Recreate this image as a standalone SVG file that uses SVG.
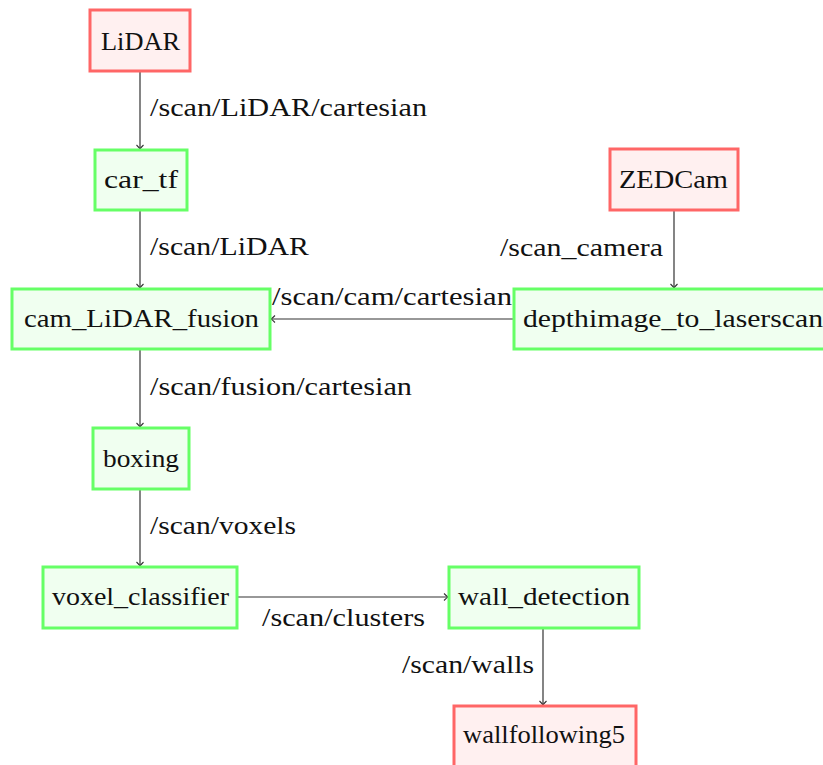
<svg xmlns="http://www.w3.org/2000/svg" width="823" height="765" viewBox="0 0 823 765">
<style>
.t{font-family:'Liberation Serif','DejaVu Serif','Times New Roman',serif;font-size:25px;fill:#111}
.src rect{fill:#fff0f0;stroke:#ff6666;stroke-width:3}
.proc rect{fill:#f0fff0;stroke:#66ff66;stroke-width:3}
#edges line{stroke:#333;stroke-width:1.2;fill:none}
</style>
<defs>
<marker id="ah" viewBox="-5 -5 10 10" refX="0" refY="0" markerWidth="10" markerHeight="10" markerUnits="userSpaceOnUse" orient="auto">
<path d="M-4,-3.5 Q-1,-0.5 0,0 Q-1,0.5 -4,3.5" fill="none" stroke="#333" stroke-width="1.1"/>
</marker>
</defs>
<rect width="823" height="765" fill="#fff"/>
<g class="t" font-family="Liberation Serif, DejaVu Serif, serif">
<g id="edges">
<line x1="140" y1="71" x2="140" y2="149" marker-end="url(#ah)"/>
<line x1="140" y1="210" x2="140" y2="288" marker-end="url(#ah)"/>
<line x1="674" y1="210" x2="674" y2="288" marker-end="url(#ah)"/>
<line x1="514" y1="319" x2="271" y2="319" marker-end="url(#ah)"/>
<line x1="140" y1="349" x2="140" y2="427" marker-end="url(#ah)"/>
<line x1="140" y1="489" x2="140" y2="566" marker-end="url(#ah)"/>
<line x1="237" y1="597" x2="448" y2="597" marker-end="url(#ah)"/>
<line x1="543" y1="628" x2="543" y2="705" marker-end="url(#ah)"/>
<text x="150" y="116" textLength="277" lengthAdjust="spacingAndGlyphs">/scan/LiDAR/cartesian</text>
<text x="150" y="255" textLength="159" lengthAdjust="spacingAndGlyphs">/scan/LiDAR</text>
<text x="500" y="256" textLength="163" lengthAdjust="spacingAndGlyphs">/scan_camera</text>
<text x="272" y="305" textLength="240" lengthAdjust="spacingAndGlyphs">/scan/cam/cartesian</text>
<text x="150" y="395" textLength="262" lengthAdjust="spacingAndGlyphs">/scan/fusion/cartesian</text>
<text x="150" y="534" textLength="146" lengthAdjust="spacingAndGlyphs">/scan/voxels</text>
<text x="262" y="626" textLength="163" lengthAdjust="spacingAndGlyphs">/scan/clusters</text>
<text x="402" y="673" textLength="132" lengthAdjust="spacingAndGlyphs">/scan/walls</text>
</g>
<g id="LiDAR" class="src"><rect x="90" y="10" width="100" height="61"/><text x="101" y="50" textLength="79" lengthAdjust="spacingAndGlyphs">LiDAR</text></g>
<g id="car_tf" class="proc"><rect x="95" y="150" width="92" height="60"/><text x="104" y="188" textLength="74" lengthAdjust="spacingAndGlyphs">car_tf</text></g>
<g id="ZEDCam" class="src"><rect x="610" y="149" width="128" height="61"/><text x="619" y="188" textLength="109" lengthAdjust="spacingAndGlyphs">ZEDCam</text></g>
<g id="cam_LiDAR_fusion" class="proc"><rect x="12" y="289" width="258" height="60"/><text x="24" y="327" textLength="235" lengthAdjust="spacingAndGlyphs">cam_LiDAR_fusion</text></g>
<g id="depthimage_to_laserscan" class="proc"><rect x="514" y="289" width="320" height="60"/><text x="523" y="327" textLength="300" lengthAdjust="spacingAndGlyphs">depthimage_to_laserscan</text></g>
<g id="boxing" class="proc"><rect x="93" y="428" width="96" height="61"/><text x="103" y="467" textLength="76" lengthAdjust="spacingAndGlyphs">boxing</text></g>
<g id="voxel_classifier" class="proc"><rect x="43" y="567" width="194" height="61"/><text x="52" y="605" textLength="177" lengthAdjust="spacingAndGlyphs">voxel_classifier</text></g>
<g id="wall_detection" class="proc"><rect x="449" y="567" width="190" height="61"/><text x="458" y="605" textLength="172" lengthAdjust="spacingAndGlyphs">wall_detection</text></g>
<g id="wallfollowing5" class="src"><rect x="454" y="706" width="182" height="62"/><text x="463" y="743" textLength="162" lengthAdjust="spacingAndGlyphs">wallfollowing5</text></g>
</g>
</svg>
